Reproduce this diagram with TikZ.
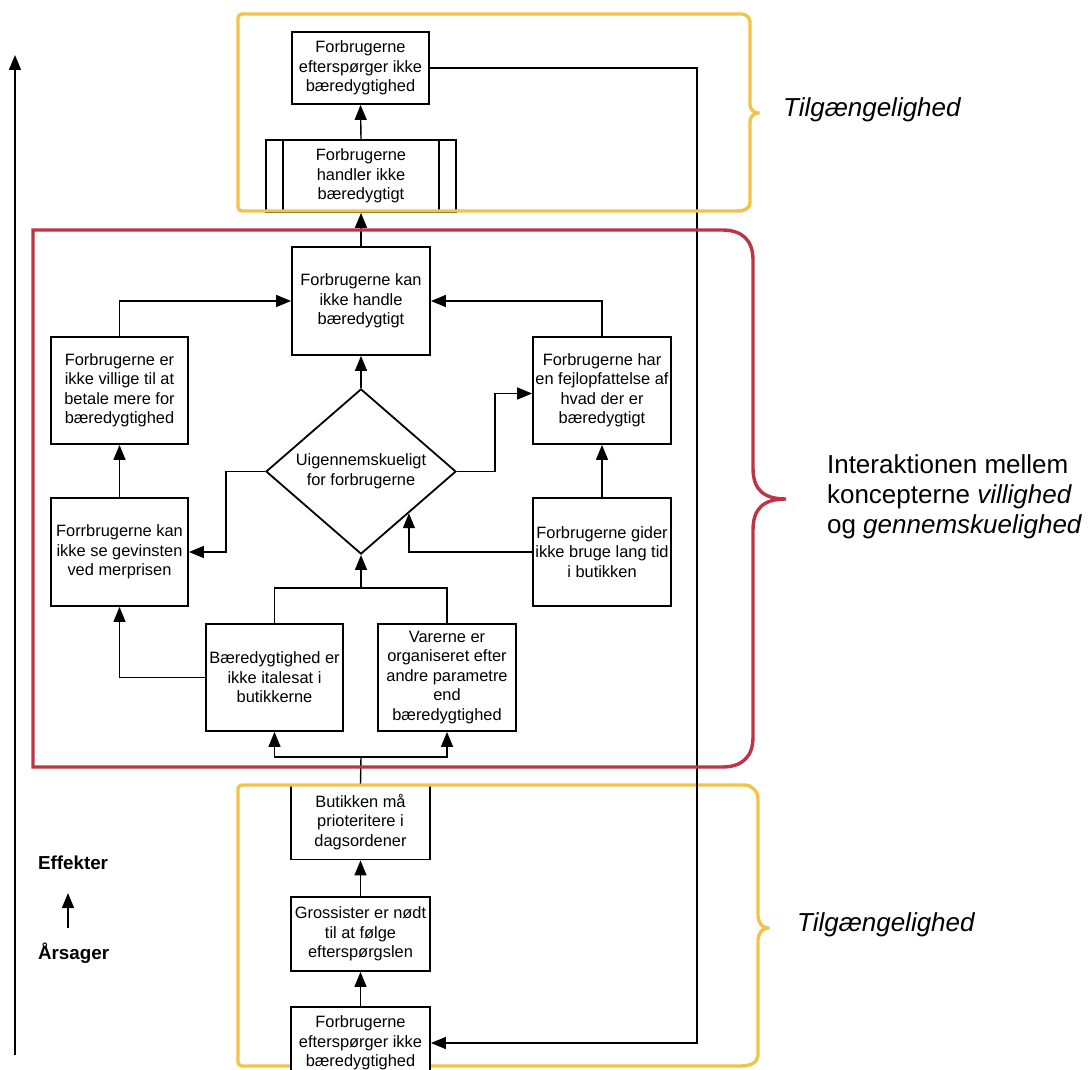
\documentclass[tikz,border=0pt]{standalone}
\usepackage{fontspec}
\setmainfont{Liberation Sans}
\usetikzlibrary{arrows.meta,shapes.geometric,calc}

\definecolor{redframe}{RGB}{190,52,70}
\definecolor{yellowframe}{RGB}{240,196,72}

\tikzset{
  box/.style={draw, line width=0.9pt, align=center, inner sep=0pt,
    font=\fontsize{8.2}{9.75}\selectfont},
  arr/.style={line width=0.7pt, -{Triangle[length=7.5pt,width=6pt]}},
  con/.style={line width=0.7pt},
  bracket/.style={line width=1.7pt, rounded corners=2pt},
  side/.style={anchor=west, font=\fontsize{13}{15}\selectfont\itshape}
}

\begin{document}
\begin{tikzpicture}[x=0.5pt,y=-0.5pt]
\useasboundingbox (0,0) rectangle (1090,1069);

% causes -> effects axis
\coordinate (axbot) at (15,1055);
\coordinate (axtop) at (15,55);
\draw[arr] (axbot) -- (axtop);
\node[anchor=west, font=\fontsize{9.4}{11}\selectfont\bfseries] (eff) at (31,863) {Effekter};
\node[anchor=west, font=\fontsize{9.4}{11}\selectfont\bfseries] (aar) at (31,953) {Årsager};
\coordinate (ea1) at (68,928);
\coordinate (ea2) at (68,893);
\draw[arr] (ea1) -- (ea2);

% top part
\node[box, minimum width=68.5pt, minimum height=36pt] (b1) at (360.5,68)
  {Forbrugerne\\efterspørger ikke\\bæredygtighed};
\node[box, minimum width=95pt, minimum height=36pt] (b2) at (361,176)
  {Forbrugerne\\handler ikke\\bæredygtigt};
\draw[line width=0.9pt] ([xshift=9pt]b2.north west) -- ([xshift=9pt]b2.south west);
\draw[line width=0.9pt] ([xshift=-9pt]b2.north east) -- ([xshift=-9pt]b2.south east);

% middle part
\node[box, minimum width=69pt, minimum height=54pt] (c) at (361,301)
  {Forbrugerne kan\\ikke handle\\bæredygtigt};
\node[box, minimum width=68.5pt, minimum height=53.5pt] (l1) at (119.5,390.5)
  {Forbrugerne er\\ikke villige til at\\betale mere for\\bæredygtighed};
\node[box, minimum width=69pt, minimum height=53.5pt] (r1) at (602,390.5)
  {Forbrugerne har\\en fejlopfattelse af\\hvad der er\\bæredygtigt};
\node[box, diamond, minimum width=95pt, minimum height=80.5pt] (dia) at (361,471.5)
  {Uigennemskueligt\\for forbrugerne};
\node[box, minimum width=68.5pt, minimum height=54pt] (l2) at (119.5,552)
  {Forrbrugerne kan\\ikke se gevinsten\\ved merprisen};
\node[box, minimum width=69pt, minimum height=54pt] (r2) at (602,552)
  {Forbrugerne gider\\ikke bruge lang tid\\i butikken};
\node[box, minimum width=68.5pt, minimum height=53.5pt] (b3) at (274.5,677.5)
  {Bæredygtighed er\\ikke italesat i\\butikkerne};
\node[box, minimum width=69pt, minimum height=53.5pt] (b4) at (447,677.5)
  {Varerne er\\organiseret efter\\andre parametre\\end\\bæredygtighed};

% bottom part
\node[box, minimum width=69.5pt, minimum height=37.5pt] (butik) at (360.5,822)
  {Butikken må\\prioteritere i\\dagsordener};
\node[box, minimum width=69.5pt, minimum height=37pt] (gros) at (360.5,934)
  {Grossister er nødt\\til at følge\\efterspørgslen};
\draw[bracket, yellowframe] (740,1066) -- (238,1066) -- (238,785) -- (740,785)
  .. controls (752,785) and (758,791) .. (758,803) -- (758,912)
  .. controls (758,922) and (762,928) .. (772,928)
  .. controls (762,928) and (758,934) .. (758,944) -- (758,1050)
  .. controls (758,1062) and (752,1066) .. (740,1066);
\node[box, fill=white, minimum width=69.5pt, minimum height=36pt] (fbot) at (360.5,1043)
  {Forbrugerne\\efterspørger ikke\\bæredygtighed};

% connectors
\coordinate (loop) at (697,0);
\coordinate (join) at (361,588);
\coordinate (split) at (361,757);
\coordinate (diaedge) at ($(dia.south)!0.5!(dia.east)$);

\draw[arr] (b2.north) -- (b1.south);
\draw[arr] (c.north) -- (b2.south);
\draw[arr] (b1.east) -- (b1.east -| loop) |- (fbot.east);
\draw[arr] (l1.north) |- (c.west);
\draw[arr] (r1.north) |- (c.east);
\draw[arr] (dia.north) -- (c.south);
\draw[arr] (dia.west) -- ++(-39,0) |- (l2.east);
\draw[arr] (dia.east) -- ++(38,0) |- ([yshift=-1.5pt]r1.west);
\draw[arr] (l2.north) -- (l1.south);
\draw[arr] (r2.north) -- (r1.south);
\draw[arr] (r2.west) -| (diaedge);
\draw[con] (b3.north) |- (join) -| (b4.north);
\draw[arr] (join) -- (dia.south);
\draw[arr] (b3.west) -| (l2.south);
\draw[con] (butik.north) -- (split);
\draw[arr] (split) -| (b3.south);
\draw[arr] (split) -| (b4.south);
\draw[arr] (gros.north) -- (butik.south);
\draw[arr] (fbot.north) -- (gros.south);

% brackets
\draw[bracket, yellowframe] (738,211) -- (238,211) -- (238,14) -- (738,14)
  .. controls (746,14) and (750,18) .. (750,26) -- (750,101)
  .. controls (750,109) and (754,113) .. (762,113)
  .. controls (754,113) and (750,117) .. (750,125) -- (750,199)
  .. controls (750,207) and (746,211) .. (738,211);
\draw[bracket, redframe, rounded corners=0pt] (722,767) -- (33,767) -- (33,230) -- (722,230)
  .. controls (742,230) and (753,240) .. (753,260) -- (753,468)
  .. controls (753,490) and (764,499) .. (786,499)
  .. controls (764,499) and (753,508) .. (753,530) -- (753,737)
  .. controls (753,757) and (742,767) .. (722,767);

% bracket labels
\node[side] (tg1) at (776,110) {Tilgængelighed};
\node[side] (tg2) at (790,925) {Tilgængelighed};
\node[anchor=west, align=left, font=\fontsize{13}{15}\selectfont] (inter) at (820,497)
  {Interaktionen mellem\\koncepterne \textit{villighed}\\og \textit{gennemskuelighed}};

\end{tikzpicture}
\end{document}
